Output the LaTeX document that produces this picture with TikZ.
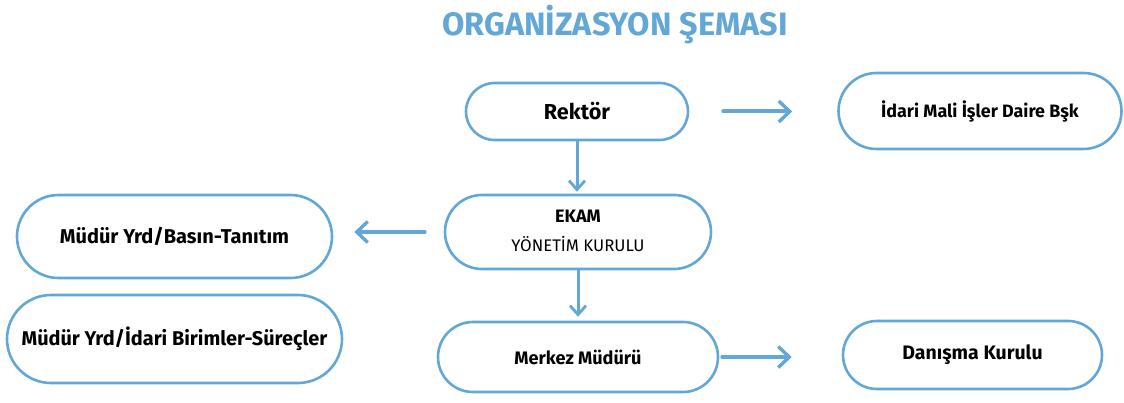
\documentclass[tikz,border=0pt]{standalone}
\usepackage{fontspec}
\setmainfont{Fira Sans}
\usetikzlibrary{shapes.misc,arrows.meta}
\definecolor{ekblue}{RGB}{98,167,214}
\tikzset{
  box/.style={rounded rectangle, draw=ekblue, line width=2.6pt, fill=white, inner sep=0pt, font=\bfseries, text=black},
  txt/.style={anchor=base, inner sep=0pt, text=black},
  hlink/.style={draw=ekblue, line width=4pt, line cap=round, -{Straight Barb[length=11pt,width=21pt,line width=3.4pt]}},
  vlink/.style={draw=ekblue, line width=3pt, line cap=round, -{Straight Barb[length=9pt,width=16pt,line width=2.8pt]}}
}
\begin{document}
\begin{tikzpicture}[x=1pt,y=-1pt]
\useasboundingbox (0,0) rectangle (1124,403);
\node[font=\fontsize{32.4}{36}\selectfont\bfseries, text=ekblue] (title) at (615,25) {ORGANİZASYON ŞEMASI};
\node[box, minimum width=222pt, minimum height=57pt, font=\fontsize{21.6}{24}\selectfont\bfseries] (rek) at (577,111.5) {Rektör};
\node[box, minimum width=283pt, minimum height=76pt, font=\fontsize{17.9}{20}\selectfont\bfseries] (idari) at (980,111) {İdari Mali İşler Daire Bşk};
\node[box, minimum width=266pt, minimum height=74pt] (ekam) at (578,232) {};
\node[txt, font=\fontsize{18}{20}\selectfont\bfseries] (ekamt) at (578,222.7) {EKAM};
\node[txt, font=\fontsize{16.8}{19}\selectfont] (ekamy) at (578,251.7) {YÖNETİM KURULU};
\node[box, minimum width=280pt, minimum height=70pt, font=\fontsize{18.1}{20}\selectfont\bfseries] (merkez) at (578,357) {Merkez Müdürü};
\node[box, minimum width=259pt, minimum height=68pt, font=\fontsize{19.5}{22}\selectfont\bfseries] (danisma) at (972.5,355) {Danışma Kurulu};
\node[box, minimum width=315pt, minimum height=83pt, font=\fontsize{20}{23}\selectfont\bfseries] (basin) at (174.5,236.5) {Müdür Yrd/Basın-Tanıtım};
\node[box, minimum width=335pt, minimum height=88pt, font=\fontsize{19.9}{23}\selectfont\bfseries] (birim) at (174.5,339) {Müdür Yrd/İdari Birimler-Süreçler};
\draw[hlink, shorten <=34pt, shorten >=45pt] (rek.east) -- (idari.west |- rek.east);
\draw[vlink, shorten >=2pt] (rek.south) -- (rek.south |- ekam.north);
\draw[hlink, shorten <=19pt, shorten >=21pt] (ekam.west) -- (basin.east |- ekam.west);
\draw[vlink, shorten >=4pt] (ekam.south) -- (ekam.south |- merkez.north);
\draw[hlink, shorten <=3pt, shorten >=50pt] (merkez.east) -- (danisma.west |- merkez.east);
\end{tikzpicture}
\end{document}
